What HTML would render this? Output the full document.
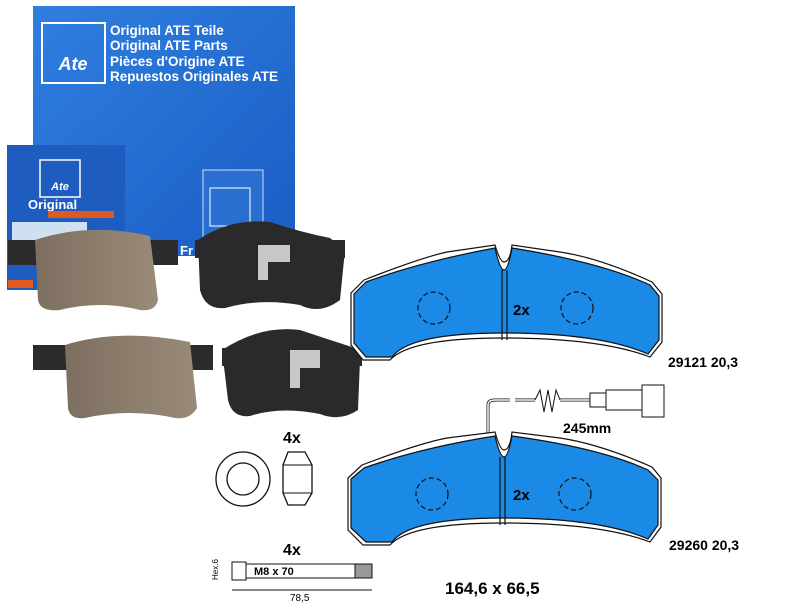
<!DOCTYPE html><html><head><style>body{margin:0;background:#fff}svg{display:block}</style></head><body>
<svg width="810" height="610" viewBox="0 0 810 610" xmlns="http://www.w3.org/2000/svg" font-family="Liberation Sans, sans-serif">
<defs>
<linearGradient id="bl" x1="0" y1="0" x2="1" y2="1"><stop offset="0" stop-color="#2f7fe0"/><stop offset="1" stop-color="#1a5cc4"/></linearGradient>
<linearGradient id="br" x1="0" y1="0" x2="1" y2="0"><stop offset="0" stop-color="#7d6f60"/><stop offset="1" stop-color="#9a8a78"/></linearGradient>
</defs>
<!-- big box -->
<rect x="33" y="6" width="262" height="250" fill="url(#bl)"/>
<rect x="42" y="23" width="63" height="60" fill="none" stroke="#fff" stroke-width="2"/>
<text x="73" y="70" fill="#fff" font-size="18" font-style="italic" font-weight="bold" text-anchor="middle">Ate</text>
<g fill="#fff" font-size="13.5" font-weight="bold"><text x="110" y="35">Original ATE Teile</text><text x="110" y="50">Original ATE Parts</text><text x="110" y="66">Pièces d'Origine ATE</text><text x="110" y="81">Repuestos Originales ATE</text></g>
<!-- small box -->
<rect x="7" y="145" width="118" height="145" fill="#1f5cc0"/>
<rect x="40" y="160" width="40" height="37" fill="none" stroke="#fff" stroke-width="1.5"/>
<text x="60" y="190" fill="#fff" font-size="11" font-style="italic" font-weight="bold" text-anchor="middle">Ate</text>
<text x="28" y="209" fill="#fff" font-size="13" font-weight="bold">Original</text>
<rect x="48" y="211" width="66" height="7" fill="#e05a20"/>
<rect x="12" y="222" width="75" height="30" fill="#cfe0f0"/>
<rect x="8" y="280" width="25" height="8" fill="#e05a20"/>
<!-- leaflet -->
<rect x="203" y="170" width="60" height="70" fill="#2a6fd0" stroke="#cfe0f0"/>
<rect x="210" y="188" width="40" height="38" fill="none" stroke="#fff"/>
<text x="180" y="255" fill="#fff" font-size="13" font-weight="bold">Fr</text>
<!-- brown pads -->
<rect x="8" y="240" width="170" height="25" fill="#2b2b2b"/>
<path d="M35 240 Q90 222 150 236 L158 300 Q155 312 140 310 Q100 300 60 310 Q40 312 38 300 Z" fill="url(#br)"/>
<rect x="33" y="345" width="180" height="25" fill="#2b2b2b"/>
<path d="M65 345 Q120 328 190 342 L197 408 Q190 420 175 418 Q130 408 85 418 Q70 420 68 408 Z" fill="url(#br)"/>
<!-- black pads -->
<rect x="195" y="240" width="150" height="18" fill="#2a2a2c"/>
<path d="M198 240 Q230 218 270 222 Q300 232 330 238 L345 250 L340 300 Q320 315 300 305 Q260 298 225 308 Q205 310 200 290 Z" fill="#2a2a2c"/>
<path d="M258 245 L290 245 L290 262 L268 262 L268 280 L258 280 Z" fill="#c8c8c8"/>
<rect x="222" y="348" width="140" height="18" fill="#2a2a2c"/>
<path d="M222 350 Q260 325 300 330 Q330 340 355 348 L360 360 L358 410 Q340 422 320 414 Q280 406 250 416 Q232 418 228 400 Z" fill="#2a2a2c"/>
<path d="M290 350 L320 350 L320 368 L300 368 L300 388 L290 388 Z" fill="#c8c8c8"/>
<!-- blue pad 1 -->
<g stroke="#111" stroke-width="1.2">
<path d="M351 293 L364 280 Q420 258 447 252 L495 245 Q500 262 504 262 Q510 262 512 245 L560 252 Q600 258 652 282 L662 294 L662 342 L650 357 Q600 338 503 338 Q410 338 390 360 L363 360 L351 345 Z" fill="#fff"/>
<path d="M354 294 L366 282 Q420 262 495 248 Q500 270 504 270 Q508 270 512 248 Q600 262 650 285 L659 296 L659 340 L648 354 Q600 333 503 333 Q410 333 392 357 L366 357 L354 343 Z" fill="#1a8ae6"/>
<line x1="502" y1="270" x2="502" y2="340"/><line x1="507" y1="270" x2="507" y2="340"/>
<circle cx="434" cy="308" r="16" fill="none" stroke-dasharray="5 3"/><circle cx="577" cy="308" r="16" fill="none" stroke-dasharray="5 3"/>
</g>
<text x="513" y="315" font-size="15" font-weight="bold">2x</text>
<text x="668" y="367" font-size="14" font-weight="bold">29121 20,3</text>
<!-- wire -->
<path d="M488 440 L488 405 Q488 400 495 400 L510 400 M515 400 L535 400 M560 400 L590 400" fill="none" stroke="#111" stroke-width="3"/>
<path d="M488 440 L488 405 Q488 400 495 400 L510 400 M515 400 L535 400 M560 400 L590 400" fill="none" stroke="#fff" stroke-width="1.5"/>
<path d="M535 400 L540 390 L544 412 L548 390 L552 412 L556 390 L560 400" fill="none" stroke="#111"/>
<rect x="590" y="393" width="16" height="14" fill="#fff" stroke="#111"/>
<rect x="606" y="390" width="36" height="20" fill="#fff" stroke="#111"/>
<rect x="642" y="385" width="22" height="32" fill="#fff" stroke="#111"/>
<text x="563" y="433" font-size="14" font-weight="bold">245mm</text>
<!-- blue pad 2 -->
<g stroke="#111" stroke-width="1.2">
<path d="M348 478 L362 465 Q420 443 447 438 L495 432 Q500 450 504 450 Q510 450 512 432 L560 438 Q600 444 652 467 L661 478 L661 527 L650 542 Q600 523 503 523 Q410 523 390 545 L363 545 L348 530 Z" fill="#fff"/>
<path d="M351 479 L364 468 Q420 448 495 436 Q500 457 504 457 Q508 457 512 436 Q600 448 648 470 L658 480 L658 525 L648 539 Q600 518 503 518 Q410 518 392 542 L366 542 L351 528 Z" fill="#1a8ae6"/>
<line x1="500" y1="457" x2="500" y2="525"/><line x1="505" y1="457" x2="505" y2="525"/>
<circle cx="432" cy="494" r="16" fill="none" stroke-dasharray="5 3"/><circle cx="575" cy="494" r="16" fill="none" stroke-dasharray="5 3"/>
</g>
<text x="513" y="500" font-size="15" font-weight="bold">2x</text>
<text x="669" y="550" font-size="14" font-weight="bold">29260 20,3</text>
<!-- washers -->
<text x="283" y="443" font-size="16" font-weight="bold">4x</text>
<circle cx="243" cy="479" r="27" fill="none" stroke="#111" stroke-width="1.3"/>
<circle cx="243" cy="479" r="16" fill="none" stroke="#111" stroke-width="1.3"/>
<path d="M288 452 L305 452 L312 465 L312 493 L305 505 L288 505 L283 493 L283 465 Z" fill="#fff" stroke="#111" stroke-width="1.3"/>
<line x1="283" y1="465" x2="312" y2="465" stroke="#111"/><line x1="283" y1="493" x2="312" y2="493" stroke="#111"/>
<!-- bolt -->
<text x="283" y="555" font-size="16" font-weight="bold">4x</text>
<rect x="232" y="562" width="14" height="18" fill="#fff" stroke="#111"/>
<rect x="246" y="564" width="126" height="14" fill="#fff" stroke="#111"/>
<rect x="355" y="564" width="17" height="14" fill="#999" stroke="#111"/>
<text x="254" y="575" font-size="11" font-weight="bold">M8 x 70</text>
<text x="218" y="580" font-size="8" transform="rotate(-90 218 580)">Hex.6</text>
<line x1="232" y1="590" x2="372" y2="590" stroke="#111"/>
<text x="290" y="601" font-size="10">78,5</text>
<text x="445" y="594" font-size="17" font-weight="bold">164,6 x 66,5</text>
</svg>
</body></html>
